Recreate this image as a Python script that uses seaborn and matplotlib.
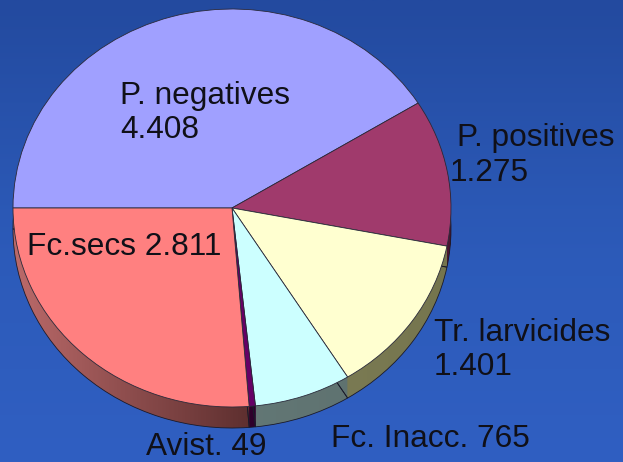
import matplotlib
matplotlib.use("Agg")
import matplotlib.pyplot as plt
from matplotlib.colors import LinearSegmentedColormap
from matplotlib.patches import PathPatch
from matplotlib.path import Path
import numpy as np
import seaborn as sns

labels = ["P. negatives\n4.408", "P. positives", "1.275", "Tr. larvicides\n1.401",
          "Fc. Inacc. 765", "Avist. 49", "Fc.secs 2.811"]
values = [4408, 1275, 1401, 765, 49, 2811]
top_colors = ["#a0a0ff", "#a03a6c", "#ffffd0", "#ccffff", "#660066", "#ff8080"]
side_left = ["#505080", "#5a1a38", "#8a8a62", "#6a8280", "#33002f", "#bb6a6a"]
side_right = ["#505080", "#4a1430", "#75754e", "#5c6e6c", "#2a0028", "#5c2e2e"]
label_pos = [(120, 113), (457, 138), (450, 173), (434, 350), (331, 439), (146, 447), (27, 247)]

W, H = 623, 462
cx, cy, rx, ry, depth = 232, 208, 219, 199, 21

sns.set_theme(style="white")
plt.rcParams["font.family"] = ["Liberation Sans", "DejaVu Sans"]

fig = plt.figure(figsize=(W / 100, H / 100), dpi=100)
ax = fig.add_axes([0, 0, 1, 1])
x0, x1 = -cx / rx, (W - cx) / rx
y0, y1 = -(H - cy) / ry, cy / ry

# background gradient
bg = LinearSegmentedColormap.from_list("bg", sns.blend_palette(["#234a9f", "#2c5ab8", "#305fc2"], 8))
ax.imshow(np.linspace(0, 1, 256).reshape(-1, 1), cmap=bg, aspect="auto", extent=[x0, x1, y0, y1], zorder=0)

# side of the pie: stacked copies, gradient clipped to each slice
n = len(values)
paths = [[] for _ in range(n)]
for d in range(depth, 0, -1):
    wedges, _ = ax.pie(values, startangle=180, counterclock=False, center=(0, -d / ry),
                       colors=side_right, wedgeprops=dict(linewidth=0, zorder=1), normalize=True)
    for i, w in enumerate(wedges):
        paths[i].append(w.get_path().transformed(w.get_patch_transform()))
        w.set_visible(False)

for i in range(n):
    clip = PathPatch(Path.make_compound_path(*paths[i]), transform=ax.transData, fc="none", ec="none")
    ax.add_patch(clip)
    cm = LinearSegmentedColormap.from_list("s%d" % i, [side_left[i], side_right[i]])
    lo, hi = (-1, 0.1) if i == 5 else (-1, 1)
    im = ax.imshow(np.linspace(0, 1, 256).reshape(1, -1), cmap=cm, aspect="auto",
                   extent=[lo, hi, y0, y1], zorder=1.5)
    im.set_clip_path(clip)

# outline of the bottom of the side
low, _ = ax.pie(values, startangle=180, counterclock=False, center=(0, -depth / ry),
                colors=["none"] * n, wedgeprops=dict(linewidth=0.6, edgecolor="#1a1a2a", zorder=1.6), normalize=True)

# top face
ax.pie(values, startangle=180, counterclock=False, center=(0, 0), colors=top_colors,
       wedgeprops=dict(linewidth=0.6, edgecolor="#2a2a3a", zorder=2), normalize=True)

ax.set_aspect("auto")
ax.set_xlim(x0, x1)
ax.set_ylim(y0, y1)
ax.axis("off")

for text, (px, py) in zip(labels, label_pos):
    fig.text(px / W, 1 - py / H, text, fontsize=22.8, color="#101018", ha="left", va="center",
             linespacing=1.2, zorder=5)

fig.savefig("out.png", dpi=100)
